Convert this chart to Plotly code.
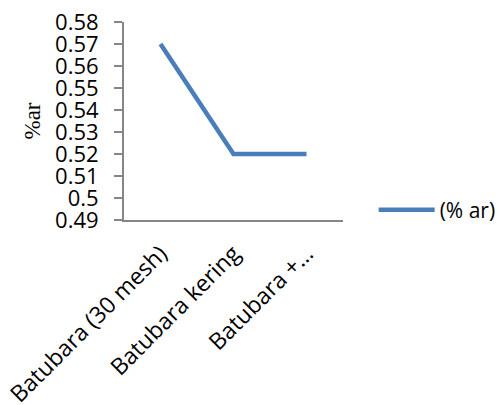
import plotly.graph_objects as go

categories = ["Batubara (30 mesh)", "Batubara kering", "Batubara +…"]
values = [0.57, 0.52, 0.52]
series_name = "(% ar)"
y_tickvals = [0.49, 0.50, 0.51, 0.52, 0.53, 0.54, 0.55, 0.56, 0.57, 0.58]
y_ticktext = ["0.49", "0.5", "0.51", "0.52", "0.53", "0.54", "0.55", "0.56", "0.57", "0.58"]

fig = go.Figure()
fig.add_trace(go.Scatter(
    x=categories, y=values, mode="lines", name=series_name,
    line=dict(color="#4A7EBB", width=4.5),
))

# page body has an 8px default margin, so the figure is offset by 8px
fig.update_layout(
    width=496, height=397,
    margin=dict(l=116, r=161, t=14, b=185, autoexpand=False),
    paper_bgcolor="white", plot_bgcolor="white",
    font=dict(family="Open Sans", color="black", size=22),
    showlegend=True,
    legend=dict(x=1.14, y=0.05, xanchor="left", yanchor="middle",
                font=dict(size=21, family="Open Sans"), itemwidth=56,
                bgcolor="rgba(0,0,0,0)", tracegroupgap=0, borderwidth=0),
    xaxis=dict(
        type="category", range=[-0.5, 2.5], automargin=False,
        showline=True, linecolor="#868686", linewidth=2,
        showgrid=False, ticks="", tickangle=-45,
        ticklabelstandoff=9, ticklabeloverflow="allow",
        tickfont=dict(size=23, family="Open Sans"),
        zeroline=False,
    ),
    yaxis=dict(
        range=[0.49, 0.58], tickvals=y_tickvals, ticktext=y_ticktext,
        automargin=False,
        showline=True, linecolor="#868686", linewidth=2,
        showgrid=False, ticks="outside", ticklen=8, tickcolor="#868686", tickwidth=2,
        ticklabelstandoff=11, ticklabeloverflow="allow",
        tickfont=dict(size=22, family="Open Sans"),
        title=dict(text="%ar", font=dict(family="Liberation Serif", size=23), standoff=8),
        zeroline=False,
    ),
)

fig.write_html("out.html")
